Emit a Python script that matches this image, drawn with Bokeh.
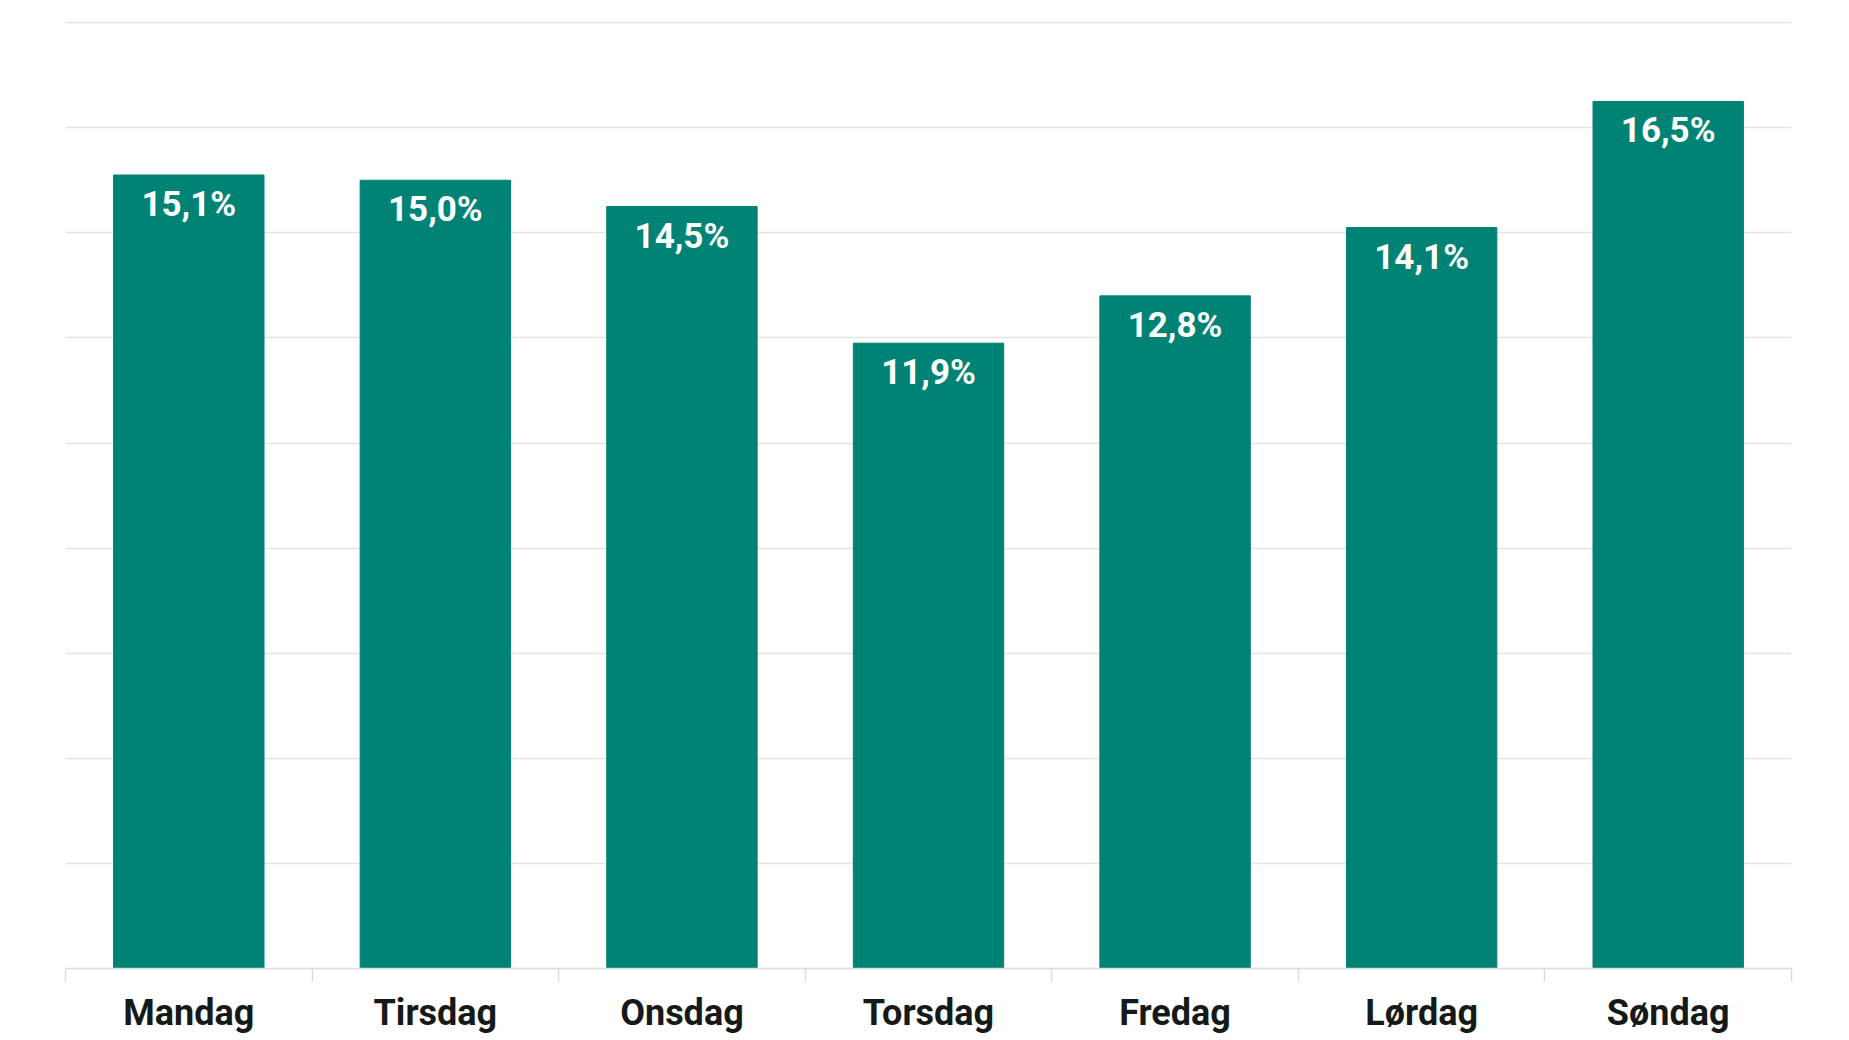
from bokeh.plotting import figure
from bokeh.models import ColumnDataSource, FixedTicker, Range1d
from bokeh.core.properties import value
from bokeh.embed import file_html
from bokeh.resources import INLINE

days = ["Mandag", "Tirsdag", "Onsdag", "Torsdag", "Fredag", "Lørdag", "Søndag"]
shares = [15.1, 15.0, 14.5, 11.9, 12.8, 14.1, 16.5]
y_ticks = [0, 2, 4, 6, 8, 10, 12, 14, 16, 18]

xs = [i + 0.5 for i in range(len(days))]
labels = [f"{v:.1f}".replace(".", ",") + "%" for v in shares]
src = ColumnDataSource(dict(x=xs, top=shares, label=labels))

p = figure(width=1833, height=1036, output_backend="svg", toolbar_location=None,
           x_range=Range1d(0, len(days)), y_range=Range1d(0, 18.04),
           min_border_left=65, min_border_right=42, min_border_top=20, min_border_bottom=64)
p.outline_line_color = None
p.background_fill_color = "white"
p.border_fill_color = "white"

p.vbar(x="x", top="top", width=0.61, bottom=0, source=src, color="#008374")
p.text(x="x", y="top", text="label", source=src, text_color="white",
       text_font=value("Roboto"), text_font_style="bold", text_font_size="35px",
       text_align="center", text_baseline="top", y_offset=9)

p.yaxis.visible = False
p.ygrid.ticker = FixedTicker(ticks=y_ticks)
p.ygrid.grid_line_color = "#e4e4e4"
p.ygrid.grid_line_width = 1.5
p.xgrid.visible = False

ax = p.xaxis[0]
ax.ticker = FixedTicker(ticks=xs, minor_ticks=list(range(len(days) + 1)))
ax.major_label_overrides = {x: d for x, d in zip(xs, days)}
ax.major_tick_line_color = None
ax.major_tick_out = 0
ax.major_tick_in = 0
ax.minor_tick_line_color = "#dcdcdc"
ax.minor_tick_line_width = 1.5
ax.minor_tick_out = 13
ax.minor_tick_in = 0
ax.axis_line_color = "#dcdcdc"
ax.axis_line_width = 1.5
ax.major_label_text_font = "Roboto"
ax.major_label_text_font_style = "bold"
ax.major_label_text_font_size = "36px"
ax.major_label_text_color = "#151a18"
ax.major_label_standoff = 10

open("out.html", "w").write(file_html(p, INLINE))
